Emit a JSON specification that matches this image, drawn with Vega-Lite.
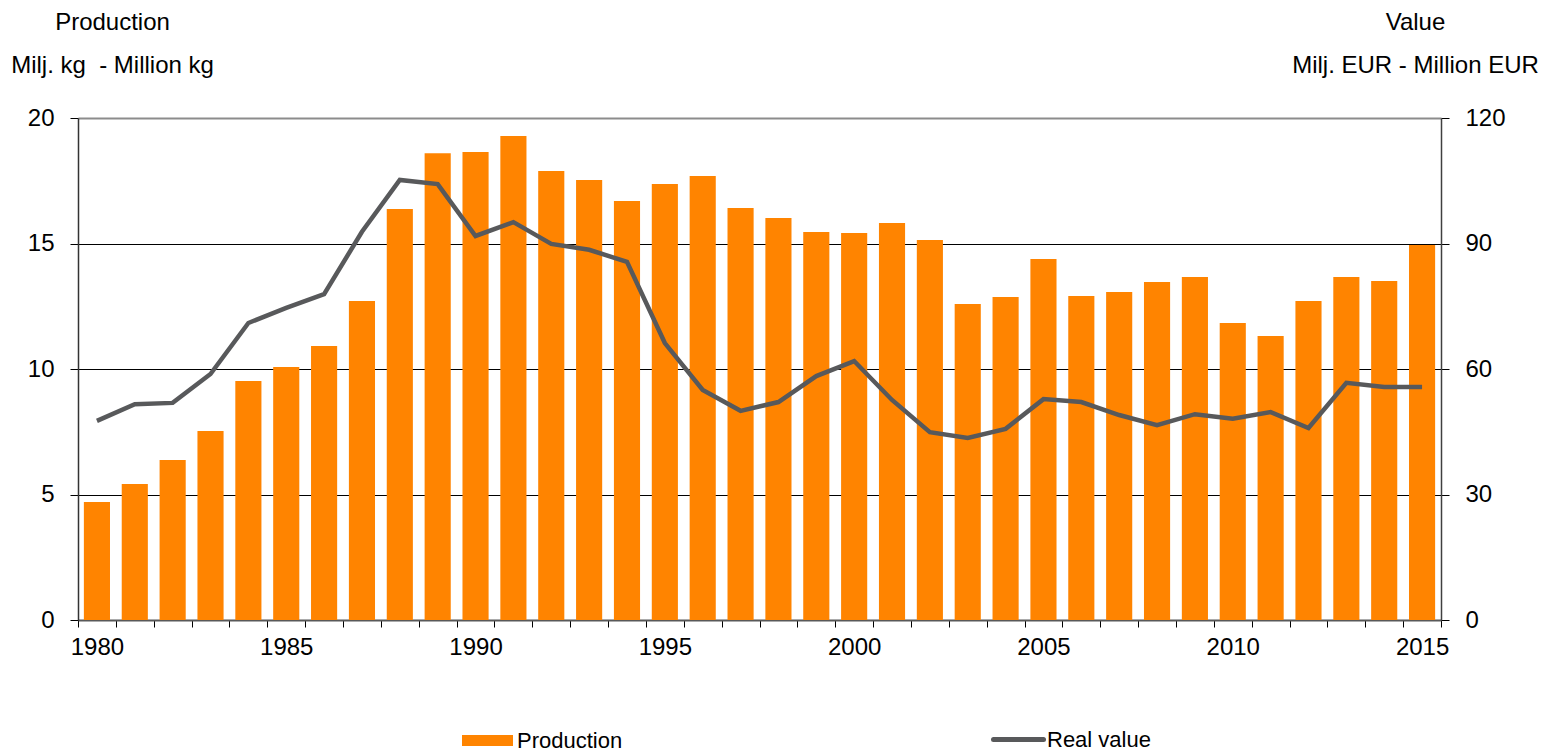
{
  "$schema": "https://vega.github.io/schema/vega-lite/v6.json",
  "width": 1363,
  "height": 502,
  "autosize": {"type": "none"},
  "padding": {"left": 78, "top": 118, "right": 108, "bottom": 131},
  "background": "white",
  "config": {
    "font": "Liberation Sans",
    "view": {"stroke": null},
    "axis": {"labelFont": "Liberation Sans", "titleFont": "Liberation Sans", "labelColor": "black", "titleColor": "black", "titleFontWeight": "normal"},
    "legend": {"labelFont": "Liberation Sans", "labelColor": "black"}
  },
  "data": {
    "values": [
      {"year": 1980, "production": 4.7, "value": 47.6},
      {"year": 1981, "production": 5.42, "value": 51.6},
      {"year": 1982, "production": 6.37, "value": 51.9},
      {"year": 1983, "production": 7.53, "value": 58.8},
      {"year": 1984, "production": 9.52, "value": 71.0},
      {"year": 1985, "production": 10.08, "value": 74.6},
      {"year": 1986, "production": 10.92, "value": 77.9},
      {"year": 1987, "production": 12.71, "value": 92.8},
      {"year": 1988, "production": 16.37, "value": 105.2},
      {"year": 1989, "production": 18.6, "value": 104.2},
      {"year": 1990, "production": 18.65, "value": 91.8},
      {"year": 1991, "production": 19.28, "value": 95.1},
      {"year": 1992, "production": 17.89, "value": 89.9},
      {"year": 1993, "production": 17.53, "value": 88.5},
      {"year": 1994, "production": 16.69, "value": 85.6},
      {"year": 1995, "production": 17.37, "value": 66.2},
      {"year": 1996, "production": 17.69, "value": 55.0},
      {"year": 1997, "production": 16.41, "value": 50.0},
      {"year": 1998, "production": 16.02, "value": 52.1},
      {"year": 1999, "production": 15.46, "value": 58.3},
      {"year": 2000, "production": 15.42, "value": 61.9},
      {"year": 2001, "production": 15.82, "value": 52.6},
      {"year": 2002, "production": 15.14, "value": 44.9},
      {"year": 2003, "production": 12.59, "value": 43.5},
      {"year": 2004, "production": 12.87, "value": 45.7},
      {"year": 2005, "production": 14.38, "value": 52.8},
      {"year": 2006, "production": 12.91, "value": 52.1},
      {"year": 2007, "production": 13.07, "value": 49.0},
      {"year": 2008, "production": 13.47, "value": 46.6},
      {"year": 2009, "production": 13.67, "value": 49.2},
      {"year": 2010, "production": 11.83, "value": 48.1},
      {"year": 2011, "production": 11.31, "value": 49.7},
      {"year": 2012, "production": 12.71, "value": 45.9},
      {"year": 2013, "production": 13.67, "value": 56.7},
      {"year": 2014, "production": 13.51, "value": 55.7},
      {"year": 2015, "production": 14.94, "value": 55.7}
    ]
  },
  "encoding": {
    "x": {
      "field": "year",
      "type": "ordinal",
      "scale": {"paddingInner": 0, "paddingOuter": 0},
      "axis": {
        "title": null,
        "tickBand": "extent",
        "labelExpr": "datum.value % 5 === 0 ? datum.label : ''",
        "labelAngle": 0,
        "labelFontSize": 24,
        "labelPadding": 8,
        "tickSize": 7,
        "tickColor": "black",
        "tickWidth": 1,
        "domainColor": "#595959",
        "domainWidth": 2,
        "grid": false
      }
    }
  },
  "layer": [
    {
      "mark": {"type": "bar", "width": {"band": 0.69}},
      "encoding": {
        "y": {
          "field": "production",
          "type": "quantitative",
          "scale": {"domain": [0, 20]},
          "axis": {
            "values": [0, 5, 10, 15, 20],
            "title": ["Production", "Milj. kg\u00a0 - Million kg"],
            "titleAngle": 0,
            "titleAlign": "center",
            "titleBaseline": "alphabetic",
            "titleX": 34,
            "titleY": -89,
            "titleFontSize": 24,
            "titleLineHeight": 43,
            "labelFontSize": 24,
            "labelPadding": 16,
            "tickSize": 8,
            "tickColor": "black",
            "domainColor": "#333333",
            "domainWidth": 1.5,
            "grid": true,
            "gridColor": {"condition": {"test": "datum.value === 20", "value": "#8c8c8c"}, "value": "#000000"},
            "gridWidth": {"condition": {"test": "datum.value === 20", "value": 2}, "value": 1}
          }
        },
        "color": {
          "datum": "Production",
          "scale": {"range": ["#ff8400"]},
          "legend": {
            "orient": "none",
            "legendX": 384,
            "legendY": 597,
            "title": null,
            "symbolType": "M-1,-0.22L1,-0.22L1,0.22L-1,0.22Z",
            "symbolSize": 2601,
            "symbolStrokeWidth": 0,
            "labelFontSize": 22,
            "labelOffset": 4
          }
        }
      }
    },
    {
      "mark": {"type": "line", "strokeWidth": 4.5},
      "encoding": {
        "y": {
          "field": "value",
          "type": "quantitative",
          "scale": {"domain": [0, 120]},
          "axis": {
            "orient": "right",
            "values": [0, 30, 60, 90, 120],
            "title": ["Value", "Milj. EUR - Million EUR"],
            "titleAngle": 0,
            "titleAlign": "center",
            "titleBaseline": "alphabetic",
            "titleX": -26,
            "titleY": -89,
            "titleFontSize": 24,
            "titleLineHeight": 43,
            "labelFontSize": 24,
            "labelPadding": 16,
            "tickSize": 8,
            "tickColor": "black",
            "domainColor": "#404040",
            "domainWidth": 1.5,
            "grid": false
          }
        },
        "stroke": {
          "datum": "Real value",
          "scale": {"range": ["#58595b"]},
          "legend": {
            "orient": "none",
            "legendX": 913,
            "legendY": 594,
            "title": null,
            "symbolType": "stroke",
            "symbolSize": 2500,
            "symbolStrokeWidth": 5,
            "labelFontSize": 22,
            "labelOffset": 1,
            "encode": {"symbols": {"update": {"strokeCap": {"value": "round"}}}}
          }
        }
      }
    }
  ],
  "resolve": {"scale": {"y": "independent"}}
}
